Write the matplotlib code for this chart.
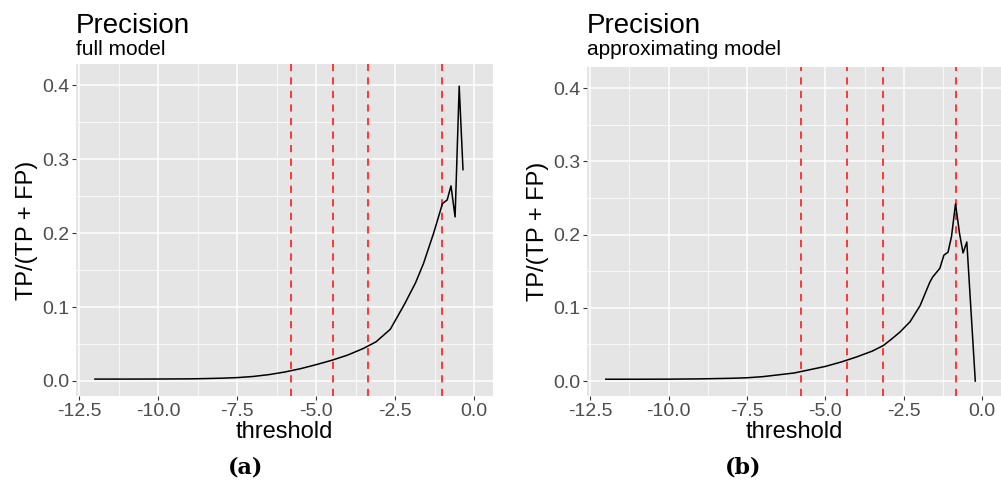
"""
Precision vs threshold, full model and approximating model
"""
import numpy as np
import matplotlib.pyplot as plt
from matplotlib.ticker import MultipleLocator

plt.rcParams['font.family'] = ['Liberation Sans', 'DejaVu Sans']

# data
thr_full = [-12.0, -11.0, -10.0, -9.0, -8.5, -8.0, -7.5, -7.0, -6.5, -6.0, -5.5, -5.0,
            -4.5, -4.0, -3.5, -3.1, -2.65, -2.2, -1.85, -1.6, -1.28, -1.0, -0.85,
            -0.73, -0.6, -0.47, -0.35]
prec_full = [0.0025, 0.0025, 0.0026, 0.0028, 0.0032, 0.0037, 0.0045, 0.006, 0.0085, 0.012,
             0.0165, 0.022, 0.028, 0.035, 0.044, 0.053, 0.070, 0.104, 0.133, 0.159,
             0.200, 0.240, 0.245, 0.264, 0.222, 0.399, 0.286]

thr_approx = [-12.0, -11.0, -10.0, -9.0, -8.0, -7.5, -7.0, -6.5, -6.0, -5.5, -5.0, -4.5,
              -4.0, -3.5, -3.15, -2.9, -2.62, -2.3, -1.98, -1.67, -1.58, -1.35, -1.22,
              -1.09, -0.98, -0.85, -0.72, -0.61, -0.49, -0.22]
prec_approx = [0.0025, 0.0025, 0.0026, 0.003, 0.0038, 0.0045, 0.006, 0.0085, 0.011, 0.0155,
               0.020, 0.026, 0.033, 0.041, 0.0486, 0.057, 0.067, 0.081, 0.103, 0.135,
               0.142, 0.154, 0.172, 0.176, 0.197, 0.242, 0.201, 0.175, 0.190, 0.0]

cuts_full = [-5.81, -4.48, -3.37, -1.0]
cuts_approx = [-5.78, -4.30, -3.15, -0.85]

subtitles = ['full model', 'approximating model']
captions = ['(a)', '(b)']

W, H = 1001, 490
fig = plt.figure(figsize=(W / 100, H / 100), dpi=100)

# panel boxes in pixels: left, top, right, bottom
boxes = [(76, 64, 493, 396), (587, 67, 1001, 396)]
caption_x = [246, 743]


def px(x, y):
    return x / W, 1 - y / H


panels = [(thr_full, prec_full, cuts_full), (thr_approx, prec_approx, cuts_approx)]
for i, (x, y, cuts) in enumerate(panels):
    l, t, r, b = boxes[i]
    ax = fig.add_axes([l / W, 1 - b / H, (r - l) / W, (b - t) / H])
    ax.set_facecolor('#E5E5E5')
    for s in ax.spines.values():
        s.set_visible(False)
    ax.set_xlim(-12.6, 0.6)
    ax.set_ylim(-0.0204, 0.429)
    ax.xaxis.set_major_locator(MultipleLocator(2.5))
    ax.xaxis.set_minor_locator(MultipleLocator(1.25))
    ax.yaxis.set_major_locator(MultipleLocator(0.1))
    ax.yaxis.set_minor_locator(MultipleLocator(0.05))
    ax.grid(which='major', color='white', linewidth=1.1)
    ax.grid(which='minor', color='white', linewidth=0.55)
    ax.set_axisbelow(True)
    ax.tick_params(which='major', length=3, width=0.8, color='#333333',
                   labelcolor='#4D4D4D', labelsize=14, pad=2)
    ax.tick_params(which='minor', length=0)
    ax.set_xticks(np.arange(-12.5, 0.1, 2.5))
    ax.set_xticklabels(['%.1f' % v for v in np.arange(-12.5, 0.1, 2.5)])
    ax.set_yticks(np.arange(0, 0.41, 0.1))
    ax.set_yticklabels(['%.1f' % v for v in np.arange(0, 0.41, 0.1)])

    for c in cuts:
        ax.axvline(c, color='#FF2A2A', linewidth=1.3, linestyle=(0, (4, 3.5)))
    ax.plot(x, y, color='black', linewidth=1.1)

    ax.set_xlabel('threshold', fontsize=17, labelpad=1)
    ax.set_ylabel('TP/(TP + FP)', fontsize=17, labelpad=3)

    fig.text(*px(l, 33), 'Precision', fontsize=20, ha='left', va='baseline')
    fig.text(*px(l, 55), subtitles[i], fontsize=15, ha='left', va='baseline')
    fig.text(*px(caption_x[i], 467), captions[i], fontsize=16, family='DejaVu Serif',
             weight='bold', ha='center', va='center')

fig.savefig('out.png', dpi=100)
